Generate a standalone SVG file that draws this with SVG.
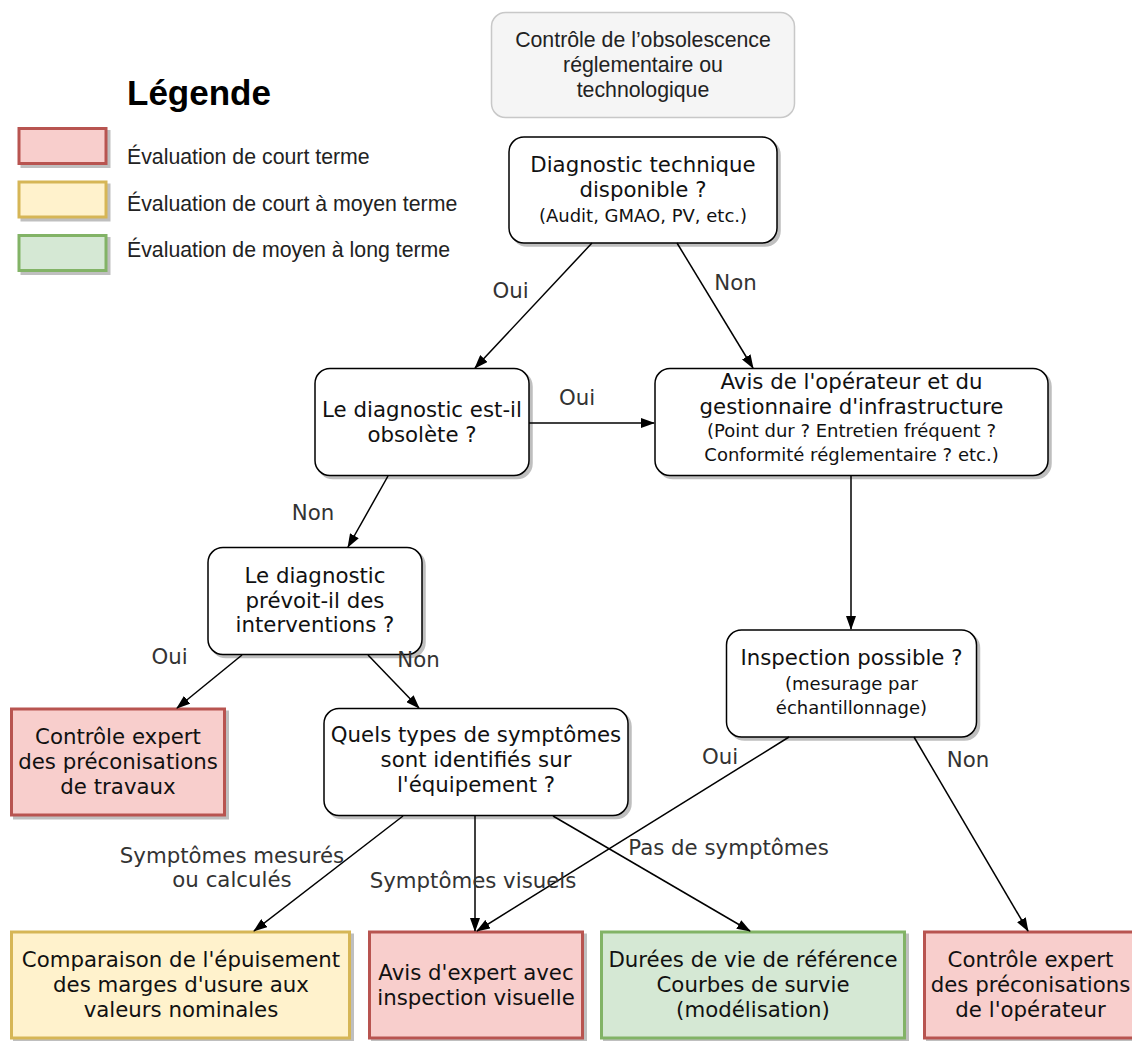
<svg xmlns="http://www.w3.org/2000/svg" width="1132" height="1041" viewBox="0 0 1132 1041">
<defs>
<style>
.node{fill:#ffffff;stroke:#000000;stroke-width:1.5}
.shadow{fill:#bfbfbf;stroke:#bfbfbf;stroke-width:1.5}
.cshadow{fill:#bfbfbf;stroke:#bfbfbf;stroke-width:3}
.red{fill:#f8cecc;stroke:#b85450;stroke-width:3}
.yellow{fill:#fff2cc;stroke:#d6b656;stroke-width:3}
.green{fill:#d5e8d4;stroke:#82b366;stroke-width:3}
.t{font-family:"DejaVu Sans",Verdana,sans-serif;font-size:21.3px;fill:#111111;text-anchor:middle}
.s{font-family:"DejaVu Sans",Verdana,sans-serif;font-size:18px;fill:#111111;text-anchor:middle}
.lbl{font-family:"DejaVu Sans",Verdana,sans-serif;font-size:21.3px;fill:#333333;text-anchor:middle}
.a{font-family:"Liberation Sans",Arial,sans-serif;font-size:21.3px;fill:#222222}
.edge{fill:none;stroke:#000000;stroke-width:1.5}
</style>
<marker id="ah" viewBox="0 0 14 10" refX="13" refY="5" markerWidth="14" markerHeight="10" orient="auto" markerUnits="userSpaceOnUse">
<path d="M0,0 L14,5 L0,10 z" fill="#000000"/>
</marker>
</defs>
<rect width="1132" height="1041" fill="#ffffff"/>

<g id="legend">
<text x="127" y="105" style="font-family:'Liberation Sans',Arial,sans-serif;font-size:35px;font-weight:bold;fill:#000">Légende</text>
<rect class="cshadow" x="22" y="131.5" width="87" height="35"/>
<rect class="red" x="19" y="128.5" width="87" height="35"/>
<text class="a" x="127" y="164">Évaluation de court terme</text>
<rect class="cshadow" x="22" y="185" width="87" height="35"/>
<rect class="yellow" x="19" y="182" width="87" height="35"/>
<text class="a" x="127" y="210.5">Évaluation de court à moyen terme</text>
<rect class="cshadow" x="22" y="238.5" width="87" height="35"/>
<rect class="green" x="19" y="235.5" width="87" height="35"/>
<text class="a" x="127" y="256.5">Évaluation de moyen à long terme</text>
</g>

<g id="obsolescence">
<rect x="491.5" y="12.5" width="303" height="105" rx="14" fill="#f5f5f5" stroke="#c8c8c8" stroke-width="1.5"/>
<text class="a" x="643" y="46.7" text-anchor="middle" style="fill:#222">Contrôle de l’obsolescence</text>
<text class="a" x="643" y="71.7" text-anchor="middle" style="fill:#222">réglementaire ou</text>
<text class="a" x="643" y="96.5" text-anchor="middle" style="fill:#222">technologique</text>
</g>

<g id="diag">
<rect class="shadow" x="512" y="140" width="268" height="106" rx="15"/>
<rect class="node" x="509" y="137" width="268" height="106" rx="15"/>
<text class="t" x="643" y="172">Diagnostic technique</text>
<text class="t" x="643" y="197">disponible ?</text>
<text class="s" x="643" y="222">(Audit, GMAO, PV, etc.)</text>
</g>

<g id="obsolete">
<rect class="shadow" x="318" y="371.5" width="214" height="107" rx="15"/>
<rect class="node" x="315" y="368.5" width="214" height="107" rx="15"/>
<text class="t" x="422" y="417">Le diagnostic est-il</text>
<text class="t" x="422" y="442">obsolète ?</text>
</g>

<g id="avis">
<rect class="shadow" x="658" y="371.5" width="393" height="107" rx="15"/>
<rect class="node" x="655" y="368.5" width="393" height="107" rx="15"/>
<text class="t" x="851.5" y="389">Avis de l'opérateur et du</text>
<text class="t" x="851.5" y="414">gestionnaire d'infrastructure</text>
<text class="s" x="851.5" y="437">(Point dur ? Entretien fréquent ?</text>
<text class="s" x="851.5" y="461">Conformité réglementaire ? etc.)</text>
</g>

<g id="prevoit">
<rect class="shadow" x="211" y="550.5" width="214" height="107" rx="15"/>
<rect class="node" x="208" y="547.5" width="214" height="107" rx="15"/>
<text class="t" x="315" y="583">Le diagnostic</text>
<text class="t" x="315" y="608">prévoit-il des</text>
<text class="t" x="315" y="632">interventions ?</text>
</g>

<g id="travaux">
<rect class="cshadow" x="14.5" y="712" width="213" height="106"/>
<rect class="red" x="11.5" y="709" width="213" height="106"/>
<text class="t" x="118" y="744">Contrôle expert</text>
<text class="t" x="118" y="769">des préconisations</text>
<text class="t" x="118" y="794">de travaux</text>
</g>

<g id="quels">
<rect class="shadow" x="327" y="711.5" width="304" height="107" rx="15"/>
<rect class="node" x="324" y="708.5" width="304" height="107" rx="15"/>
<text class="t" x="476" y="742">Quels types de symptômes</text>
<text class="t" x="476" y="767">sont identifiés sur</text>
<text class="t" x="476" y="792">l'équipement ?</text>
</g>

<g id="inspection">
<rect class="shadow" x="729.5" y="633" width="250" height="107" rx="15"/>
<rect class="node" x="726.5" y="630" width="250" height="107" rx="15"/>
<text class="t" x="851.5" y="665">Inspection possible ?</text>
<text class="s" x="851.5" y="690">(mesurage par</text>
<text class="s" x="851.5" y="714">échantillonnage)</text>
</g>

<g id="comparaison">
<rect class="cshadow" x="14.5" y="935" width="338" height="106"/>
<rect class="yellow" x="11.5" y="932" width="338" height="106"/>
<text class="t" x="181" y="967">Comparaison de l'épuisement</text>
<text class="t" x="181" y="992">des marges d'usure aux</text>
<text class="t" x="181" y="1017">valeurs nominales</text>
</g>

<g id="avisexpert">
<rect class="cshadow" x="372.5" y="935" width="213" height="106"/>
<rect class="red" x="369.5" y="932" width="213" height="106"/>
<text class="t" x="476" y="980">Avis d'expert avec</text>
<text class="t" x="476" y="1005">inspection visuelle</text>
</g>

<g id="durees">
<rect class="cshadow" x="604.5" y="935" width="303" height="106"/>
<rect class="green" x="601.5" y="932" width="303" height="106"/>
<text class="t" x="753" y="967">Durées de vie de référence</text>
<text class="t" x="753" y="992">Courbes de survie</text>
<text class="t" x="753" y="1017">(modélisation)</text>
</g>

<g id="operateur">
<rect class="cshadow" x="927.5" y="935" width="214" height="106"/>
<rect class="red" x="924.5" y="932" width="214" height="106"/>
<text class="t" x="1030.5" y="967">Contrôle expert</text>
<text class="t" x="1030.5" y="992">des préconisations</text>
<text class="t" x="1030.5" y="1017">de l'opérateur</text>
</g>

<g id="connectors">
<line class="edge" x1="592" y1="243" x2="475" y2="368" marker-end="url(#ah)"/>
<line class="edge" x1="677" y1="243" x2="753" y2="368" marker-end="url(#ah)"/>
<line class="edge" x1="529" y1="423" x2="654" y2="423" marker-end="url(#ah)"/>
<line class="edge" x1="388" y1="476" x2="348" y2="547" marker-end="url(#ah)"/>
<line class="edge" x1="851" y1="476" x2="851" y2="629" marker-end="url(#ah)"/>
<line class="edge" x1="242" y1="655" x2="177" y2="708" marker-end="url(#ah)"/>
<line class="edge" x1="368" y1="655" x2="419" y2="708" marker-end="url(#ah)"/>
<line class="edge" x1="403" y1="816" x2="254" y2="931" marker-end="url(#ah)"/>
<line class="edge" x1="475" y1="816" x2="475" y2="931" marker-end="url(#ah)"/>
<line class="edge" x1="553" y1="816" x2="750" y2="931" marker-end="url(#ah)"/>
<line class="edge" x1="789" y1="737" x2="477" y2="931" marker-end="url(#ah)"/>
<line class="edge" x1="914" y1="737" x2="1028" y2="931" marker-end="url(#ah)"/>
<text class="lbl" x="510.5" y="298">Oui</text>
<text class="lbl" x="735.5" y="290">Non</text>
<text class="lbl" x="577" y="405">Oui</text>
<text class="lbl" x="313" y="520">Non</text>
<text class="lbl" x="169.5" y="664">Oui</text>
<text class="lbl" x="418.5" y="667">Non</text>
<text class="lbl" x="232" y="863">Symptômes mesurés</text>
<text class="lbl" x="232" y="887">ou calculés</text>
<text class="lbl" x="473" y="888">Symptômes visuels</text>
<text class="lbl" x="728.5" y="855">Pas de symptômes</text>
<text class="lbl" x="720" y="764">Oui</text>
<text class="lbl" x="968" y="767">Non</text>
</g>
</svg>
